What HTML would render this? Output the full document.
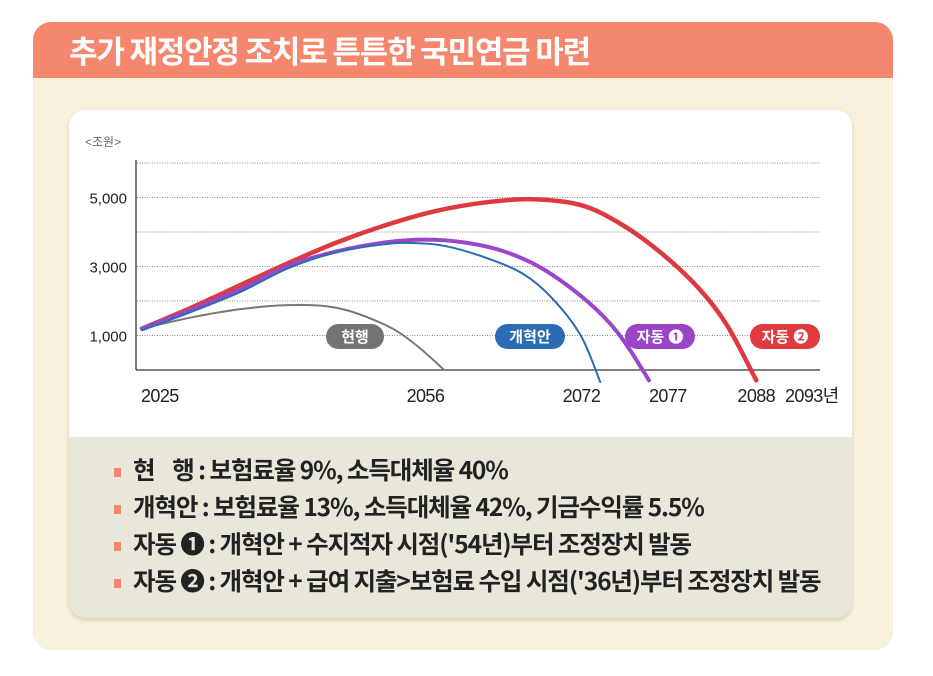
<!DOCTYPE html>
<html><head><meta charset="utf-8"><style>
body{margin:0;width:933px;height:676px;background:#fff;font-family:"Liberation Sans","Noto Sans CJK KR",sans-serif;position:relative;overflow:hidden}
#card{position:absolute;left:33px;top:22px;width:860px;height:628px;background:#f8f1db;border-radius:18px;overflow:hidden}
#hdr{position:absolute;left:0;top:0;width:860px;height:56px;background:#f4876d;color:#fff;font-weight:bold;font-size:31px;line-height:56px;padding-left:36px;box-sizing:border-box;font-family:"Noto Sans CJK KR",sans-serif;letter-spacing:-1.2px}
#inner{position:absolute;left:36px;top:88px;width:783px;height:508px;border-radius:16px;background:#e9e6da;overflow:hidden;box-shadow:0 2px 4px rgba(0,0,0,.15)}
#plot{position:absolute;left:0;top:0;width:783px;height:327px;background:#fff}
#legend{position:absolute;left:45px;top:341px;font-family:"Noto Sans CJK KR",sans-serif;font-weight:bold;font-size:24.5px;color:#222;letter-spacing:-1.1px}
.li{height:37px;line-height:37px;white-space:pre}
.li span.b{display:inline-block;width:7px;height:9px;background:#f4876d;margin-right:12px;vertical-align:middle}
</style></head><body>
<div id="card">
<div id="hdr">추가 재정안정 조치로 튼튼한 국민연금 마련</div>
<div id="inner">
<div id="plot"></div>
<div id="legend">
<div class="li"><span class="b"></span>현    행 : 보험료율 9%, 소득대체율 40%</div>
<div class="li"><span class="b"></span>개혁안 : 보험료율 13%, 소득대체율 42%, 기금수익률 5.5%</div>
<div class="li"><span class="b"></span>자동 ❶ : 개혁안 + 수지적자 시점('54년)부터 조정장치 발동</div>
<div class="li"><span class="b"></span>자동 ❷ : 개혁안 + 급여 지출&gt;보험료 수입 시점('36년)부터 조정장치 발동</div>
</div>
</div>
</div>
<svg id="chart" width="933" height="676" style="position:absolute;left:0;top:0"></svg>
<script>
const yTicks=[1000,3000,5000];
const gridVals=[1000,2000,3000,4000,5000,6000];
const xLabels=["2025","2056","2072","2077","2088","2093년"];
const xLabelYears=[2025,2056,2072,2077,2088,2093];
const xLabelAnchor=["start","end","end","start","middle","start"];
const curYears=[2025,2030,2035,2040,2045,2050,2053,2056];
const curVals=[1200,1520,1760,1880,1800,1300,750,0];
const refYears=[2025,2030,2035,2040,2045,2050,2053,2056,2060,2064,2067,2070,2072];
const refVals=[1150,1680,2250,2950,3420,3650,3680,3600,3280,2800,2100,1000,-350];
const a1Years=[2025,2030,2035,2040,2045,2050,2054,2058,2062,2066,2070,2073,2075,2077];
const a1Vals=[1200,1740,2330,3020,3440,3700,3780,3700,3450,2950,2150,1350,600,-300];
const a2Years=[2025,2030,2035,2040,2045,2050,2055,2060,2065,2070,2074,2078,2082,2085,2088];
const a2Vals=[1200,1800,2450,3100,3700,4200,4600,4850,4950,4780,4250,3450,2400,1300,-300];
const pillNames=["현행","개혁안","자동 ❶","자동 ❷"];
const X=y=>142+(y-2025)*9.75;
const Y=v=>370-v*0.0345;
const svg=document.getElementById('chart');
const NS='http://www.w3.org/2000/svg';
function mk(t,a){const e=document.createElementNS(NS,t);for(const k in a)e.setAttribute(k,a[k]);svg.appendChild(e);return e;}
gridVals.forEach(v=>{const l=mk('line',{x1:137,x2:820,y1:Y(v),y2:Y(v),stroke:'#888','stroke-width':1,'stroke-dasharray':'1 1.5'});

});
let ax=mk('line',{x1:136,x2:136,y1:160,y2:370,stroke:'#333','stroke-width':1.3});


let bx=mk('line',{x1:136,x2:820,y1:370,y2:370,stroke:'#333','stroke-width':1.3});


let ut=mk('text',{x:85,y:146,'font-size':12,fill:'#666'});ut.textContent='<조원>';


yTicks.forEach(v=>{const t=mk('text',{x:127,y:Y(v)+6,'font-size':15,fill:'#222','text-anchor':'end'});t.textContent=v.toLocaleString('en-US');

});
xLabels.forEach((s,i)=>{let x=X(xLabelYears[i]);if(i==0)x=141;if(i==5)x=785;const t=mk('text',{x:x,y:402,'font-size':18,fill:'#222','text-anchor':xLabelAnchor[i],'letter-spacing':'-0.6'});t.textContent=s;

});
function path(ys,vs){const p=ys.map((y,i)=>[X(y),Y(vs[i])]);let d='M'+p[0][0]+','+p[0][1];
for(let i=0;i<p.length-1;i++){const p0=p[i-1]||p[i],p1=p[i],p2=p[i+1],p3=p[i+2]||p2;
d+=' C'+(p1[0]+(p2[0]-p0[0])/6)+','+(p1[1]+(p2[1]-p0[1])/6)+' '+(p2[0]-(p3[0]-p1[0])/6)+','+(p2[1]-(p3[1]-p1[1])/6)+' '+p2[0]+','+p2[1];}return d;}
const series=[[curYears,curVals,'#777',2,'line-current'],[a2Years,a2Vals,'#dd3a40',4.5,'line-auto2'],[a1Years,a1Vals,'#9a47c9',4,'line-auto1'],[refYears,refVals,'#2a6cb0',2,'line-reform']];
series.forEach(s=>{const e=mk('path',{d:path(s[0],s[1]),fill:'none',stroke:s[2],'stroke-width':s[3],'stroke-linecap':'round'});

});
const pills=[[355,58,'#737373'],[530,70,'#2a6db5'],[660,70,'#9a45c8'],[785,70,'#e0393e']];
pills.forEach((p,i)=>{const r=mk('rect',{x:p[0]-p[1]/2,y:324,width:p[1],height:25,rx:12.5,fill:p[2]});


const t=mk('text',{x:p[0],y:342,'font-size':15,'font-weight':'bold',fill:'#fff','text-anchor':'middle'});t.textContent=pillNames[i];

});
</script>
</body></html>
